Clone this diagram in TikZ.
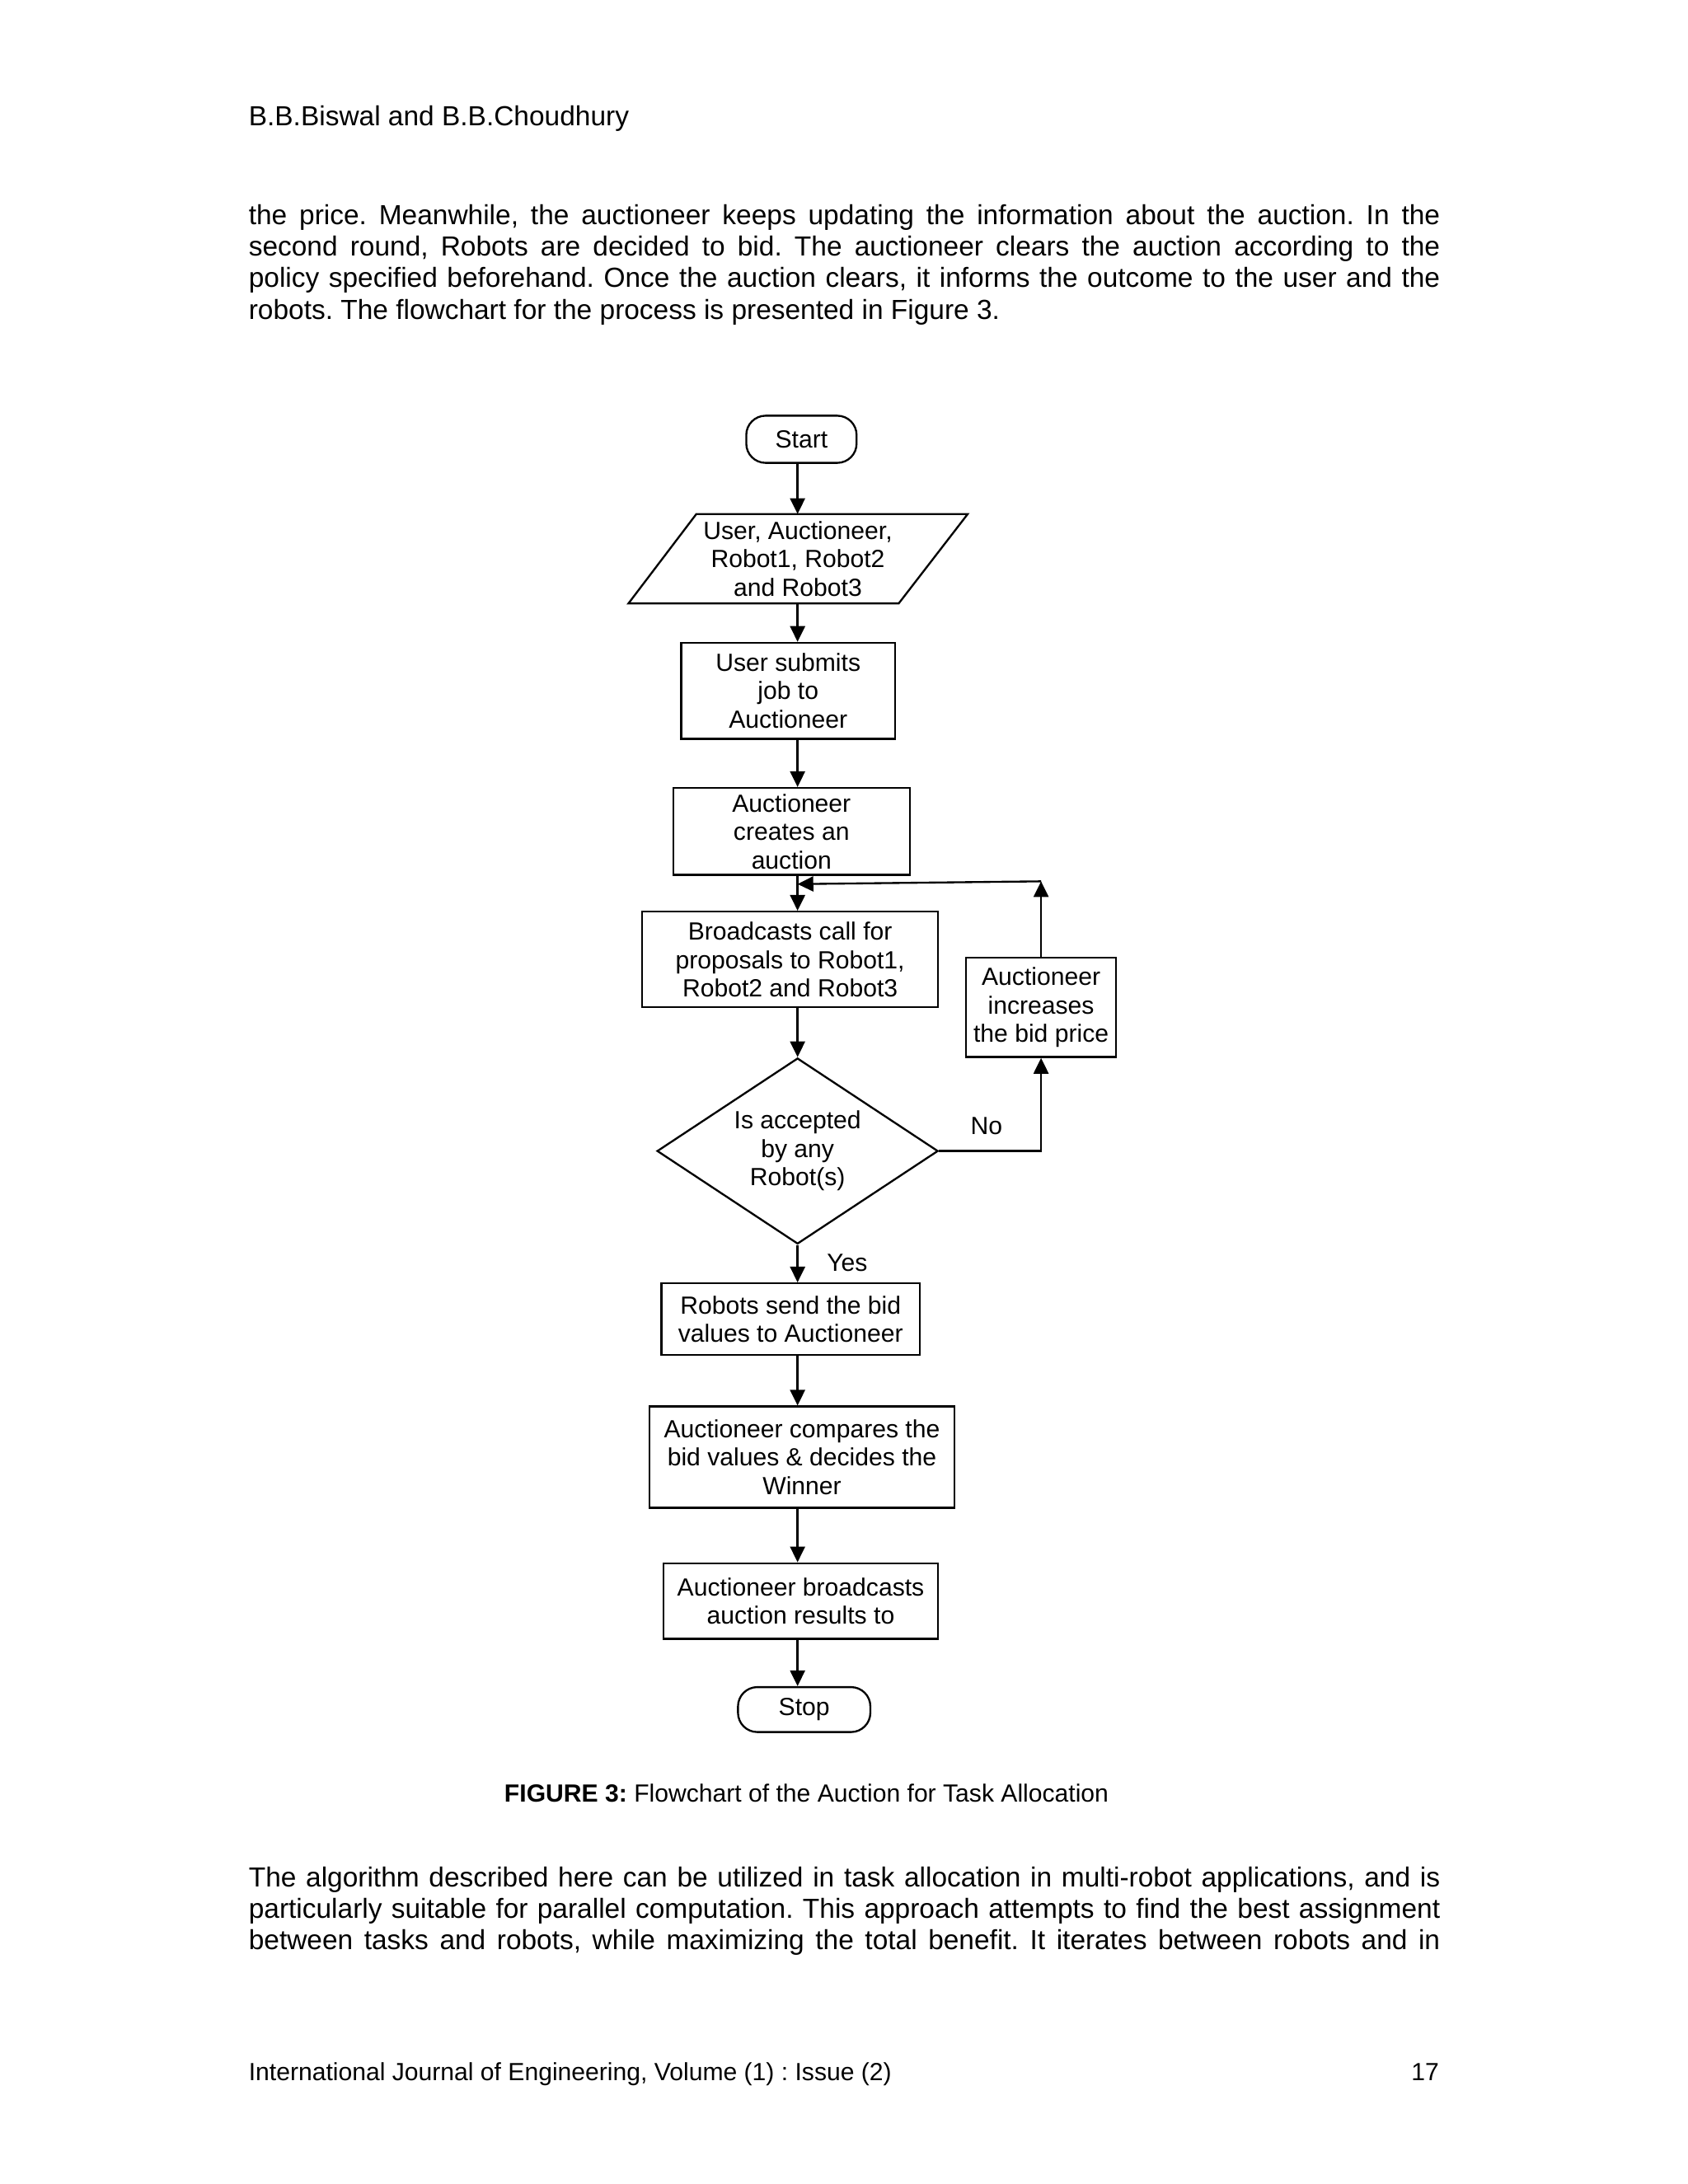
\documentclass[tikz,border=0pt]{standalone}
\usepackage{fontspec}
\setmainfont{Liberation Sans}
\usepackage{tikz}
\usetikzlibrary{positioning,shapes.geometric,arrows.meta}
\newcommand{\chartfont}{\fontsize{9}{10.3}\selectfont}
\newcommand{\bodyfont}{\fontsize{10}{11.5}\selectfont}
\frenchspacing

\tikzset{
  box/.style={draw, line width=0.7pt, align=center, inner sep=0pt, font=\chartfont},
  term/.style={box, rounded corners=7pt},
  decision/.style={box, diamond, aspect=1.5},
  arrow/.style={line width=0.7pt, -{Triangle[length=5.7pt,width=5.4pt]}},
  bodyline/.style={anchor=base west, inner sep=0pt, font=\bodyfont},
  tag/.style={inner sep=0pt, font=\chartfont}
}

\begin{document}
\begin{tikzpicture}[x=1pt,y=1pt]
\useasboundingbox (0,0) rectangle (612,-792);
\fill[white] (0,0) rectangle (612,-792);

% page text
\node[bodyline] (header) at (90,-45.7) {B.B.Biswal and B.B.Choudhury};
\node[bodyline] (para1a) at (90,-81.3) {\makebox[432pt][s]{the price. Meanwhile, the auctioneer keeps updating the information about the auction. In the}};
\node[bodyline] (para1b) at (90,-92.8) {\makebox[432pt][s]{second round, Robots are decided to bid. The auctioneer clears the auction according to the}};
\node[bodyline] (para1c) at (90,-104.3) {\makebox[432pt][s]{policy specified beforehand. Once the auction clears, it informs the outcome to the user and the}};
\node[bodyline] (para1d) at (90,-115.8) {robots. The flowchart for the process is presented in Figure 3.};

% flowchart
\coordinate (spine) at (289.2,0);
\node[term, minimum width=40pt, minimum height=17.1pt] (start) at (290.6,-159.3) {Start};
\node[tag, minimum height=32pt, align=center] (actors) at (289.3,-202.6) {User, Auctioneer,\\Robot1, Robot2\\and Robot3};
\draw[line width=0.7pt] ([xshift=-61.4pt]actors.south) -- ([xshift=-36.8pt]actors.north)
  -- ([xshift=61.6pt]actors.north) -- ([xshift=36.6pt]actors.south) -- cycle;
\node[box, minimum width=77.5pt, minimum height=34.8pt] (submit) at (285.8,-250.5) {User submits\\job to\\Auctioneer};
\node[box, minimum width=85.8pt, minimum height=31.5pt] (create) at (287.0,-301.5) {Auctioneer\\creates an\\auction};
\node[box, minimum width=107.4pt, minimum height=34.7pt] (bcast) at (286.5,-347.95) {Broadcasts call for\\proposals to Robot1,\\Robot2 and Robot3};
\node[box, minimum width=54.3pt, minimum height=36pt] (raise) at (377.5,-365.3) {Auctioneer\\increases\\the bid price};
\node[decision, minimum width=101.9pt, minimum height=67.4pt] (decide) at (289.2,-417.4) {Is accepted\\by any\\Robot(s)};
\node[box, minimum width=93.7pt, minimum height=26pt] (send) at (286.7,-478.4) {Robots send the bid\\values to Auctioneer};
\node[box, minimum width=110.7pt, minimum height=36.7pt] (compare) at (290.8,-528.4) {Auctioneer compares the\\bid values \& decides the\\Winner};
\node[box, minimum width=99.7pt, minimum height=27.45pt] (result) at (290.35,-580.6) {Auctioneer broadcasts\\auction results to};
\node[term, minimum width=48pt, minimum height=16.3pt] (stop) at (291.6,-619.95) {Stop};

\node[tag] (nolabel) at (357.7,-408.4) {No};
\node[tag] (yeslabel) at (307.2,-458.0) {Yes};

\coordinate (join) at (289.2,-320.6);
\coordinate (loopend) at (377.5,-319.6);

\draw[arrow] (start.south -| spine) -- (actors.north -| spine);
\draw[arrow] (actors.south -| spine) -- (submit.north -| spine);
\draw[arrow] (submit.south -| spine) -- (create.north -| spine);
\draw[arrow] (create.south -| spine) -- (bcast.north -| spine);
\draw[arrow] (bcast.south -| spine) -- (decide.north);
\draw[arrow] (decide.south) -- (send.north -| spine);
\draw[arrow] (send.south -| spine) -- (compare.north -| spine);
\draw[arrow] (compare.south -| spine) -- (result.north -| spine);
\draw[arrow] (result.south -| spine) -- (stop.north -| spine);
\draw[arrow] (decide.east) -| (raise.south);
\draw[arrow] (raise.north) -- (loopend);
\draw[arrow] (loopend) -- (join);

% caption and following text
\node[anchor=base west, inner sep=0pt, font=\chartfont] (caption) at (182.7,-653.6) {\textbf{FIGURE 3:} Flowchart of the Auction for Task Allocation};
\node[bodyline] (para2a) at (90,-684.1) {\makebox[432pt][s]{The algorithm described here can be utilized in task allocation in multi-robot applications, and is}};
\node[bodyline] (para2b) at (90,-695.6) {\makebox[432pt][s]{particularly suitable for parallel computation. This approach attempts to find the best assignment}};
\node[bodyline] (para2c) at (90,-707.1) {\makebox[432pt][s]{between tasks and robots, while maximizing the total benefit. It iterates between robots and in}};

\node[bodyline, font=\chartfont] (footer) at (90,-754.6) {International Journal of Engineering, Volume (1) : Issue (2)};
\node[bodyline, font=\chartfont, anchor=base east] (pagenum) at (522,-754.6) {17};
\end{tikzpicture}
\end{document}
